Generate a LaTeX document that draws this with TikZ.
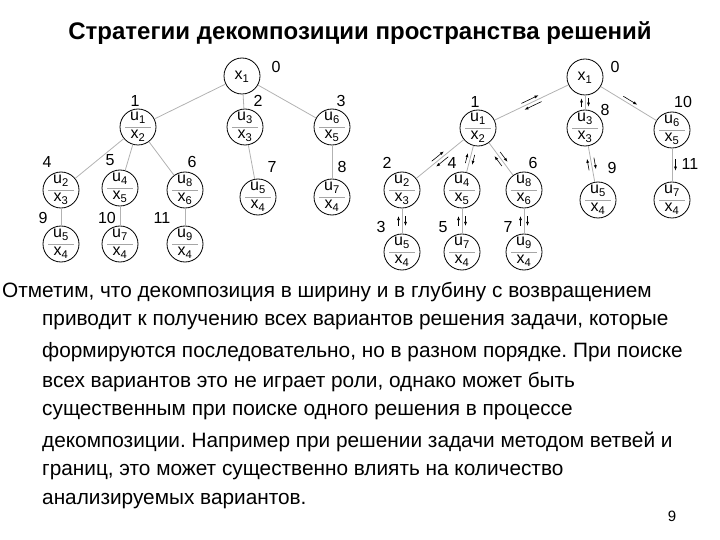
\documentclass[tikz,border=0pt]{standalone}
\usepackage{fontspec}
\setmainfont{Liberation Sans}
\frenchspacing
\usetikzlibrary{calc,arrows.meta}
\tikzset{tn/.style={circle,draw,thick,minimum size=36pt,inner sep=0pt},
 edge/.style={gray!60,line width=0.8pt},
 arr/.style={-{Latex[length=4pt,width=3pt]},line width=0.6pt},
 num/.style={font=\fontsize{16}{16}\selectfont},
 body/.style={anchor=west,font=\fontsize{20.8}{24}\selectfont,inner sep=0pt}}
\newcommand\tnd[4]{\node[tn] (#1) at (#2) {};
 \draw[gray!70,line width=0.6pt] ($(#1)+(-13,0)$) -- ($(#1)+(13,0)$);
 \node[font=\fontsize{16}{16}\selectfont] (#1u) at ($(#1)+(0,-9)$) {u\textsubscript{#3}};
 \node[font=\fontsize{16}{16}\selectfont] (#1x) at ($(#1)+(0,9)$) {x\textsubscript{#4}};}
\newcommand\dn[2]{\draw[arr] ($(#1)!.42!(#2)!3.5pt!90:(#2)$) -- ($(#1)!.58!(#2)!3.5pt!90:(#2)$);}
\newcommand\up[2]{\draw[arr] ($(#2)!.42!(#1)!3.5pt!90:(#1)$) -- ($(#2)!.58!(#1)!3.5pt!90:(#1)$);}
\begin{document}
\begin{tikzpicture}[x=1pt,y=-1pt]
\useasboundingbox (0,0) rectangle (720,540);
\node[font=\bfseries\fontsize{24}{28}\selectfont] (title) at (360,33) {Стратегии декомпозиции пространства решений};
% left tree
\node[tn] (a0) at (242,76) {}; \node[font=\fontsize{16}{16}\selectfont] (a0x) at (242,77) {x\textsubscript{1}};
\tnd{a1}{138,127}{1}{2}\tnd{a2}{245,127}{3}{3}\tnd{a3}{332,127}{6}{5}
\tnd{a4}{61,190}{2}{3}\tnd{a5}{120,188}{4}{5}\tnd{a6}{185,190}{8}{6}
\tnd{a7}{258,197}{5}{4}\tnd{a8}{332,197}{7}{4}
\tnd{a9}{61,244}{5}{4}\tnd{a10}{120,244}{7}{4}\tnd{a11}{185,244}{9}{4}
\foreach \p/\c in {a0/a1,a0/a2,a0/a3,a1/a4,a1/a5,a1/a6,a2/a7,a3/a8,a4/a9,a5/a10,a6/a11}
 \draw[edge] (\p) -- (\c);
\foreach \t/\x/\y in {0/276/67,1/135/101,2/258/101,3/341/101,4/47/162,5/110/160,6/192/162,7/272/167,8/342/167,9/43/218,10/107/218,11/162/218}
 \node[num] (la\t) at (\x,\y) {\t};
% right tree
\node[tn] (b0) at (585,77) {}; \node[font=\fontsize{16}{16}\selectfont] (b0x) at (585,78) {x\textsubscript{1}};
\tnd{b1}{478,128}{1}{2}\tnd{b2}{585,128}{3}{3}\tnd{b3}{672,130}{6}{5}
\tnd{b4}{402,190}{2}{3}\tnd{b5}{462,190}{4}{5}\tnd{b6}{524,190}{8}{6}
\tnd{b7}{598,200}{5}{4}\tnd{b8}{672,200}{7}{4}
\tnd{b9}{402,252}{5}{4}\tnd{b10}{462,252}{7}{4}\tnd{b11}{524,252}{9}{4}
\foreach \p/\c in {b0/b1,b0/b2,b0/b3,b1/b4,b1/b5,b1/b6,b2/b7,b3/b8,b4/b9,b5/b10,b6/b11}
 \draw[edge] (\p) -- (\c);
\foreach \p/\c in {b0/b1,b0/b2,b1/b4,b1/b5,b1/b6,b2/b7,b4/b9,b5/b10,b6/b11}
 {\dn{\p}{\c}\up{\p}{\c}}
\dn{b0}{b3}\dn{b3}{b8}
\foreach \t/\x/\y in {0/615/67,1/475/102,8/605/110,10/683/102,2/387/163,4/452/163,6/533/163,9/612/168,11/690/164,3/381/227,5/443/227,7/508/227}
 \node[num] (lb\t) at (\x,\y) {\t};
% text
\node[body] (t1) at (2,292) {Отметим, что декомпозиция в ширину и в глубину с возвращением};
\node[body] (t2) at (42,322) {приводит к получению всех вариантов решения задачи, которые};
\node[body] (t3) at (42,352) {формируются последовательно, но в разном порядке. При поиске};
\node[body] (t4) at (42,382) {всех вариантов это не играет роли, однако может быть};
\node[body] (t5) at (42,412) {существенным при поиске одного решения в процессе};
\node[body] (t6) at (42,442) {декомпозиции. Например при решении задачи методом ветвей и};
\node[body] (t7) at (42,472) {границ, это может существенно влиять на количество};
\node[body] (t8) at (42,501) {анализируемых вариантов.};
\node[font=\fontsize{15}{15}\selectfont] (pg) at (672,516) {9};
\end{tikzpicture}
\end{document}
